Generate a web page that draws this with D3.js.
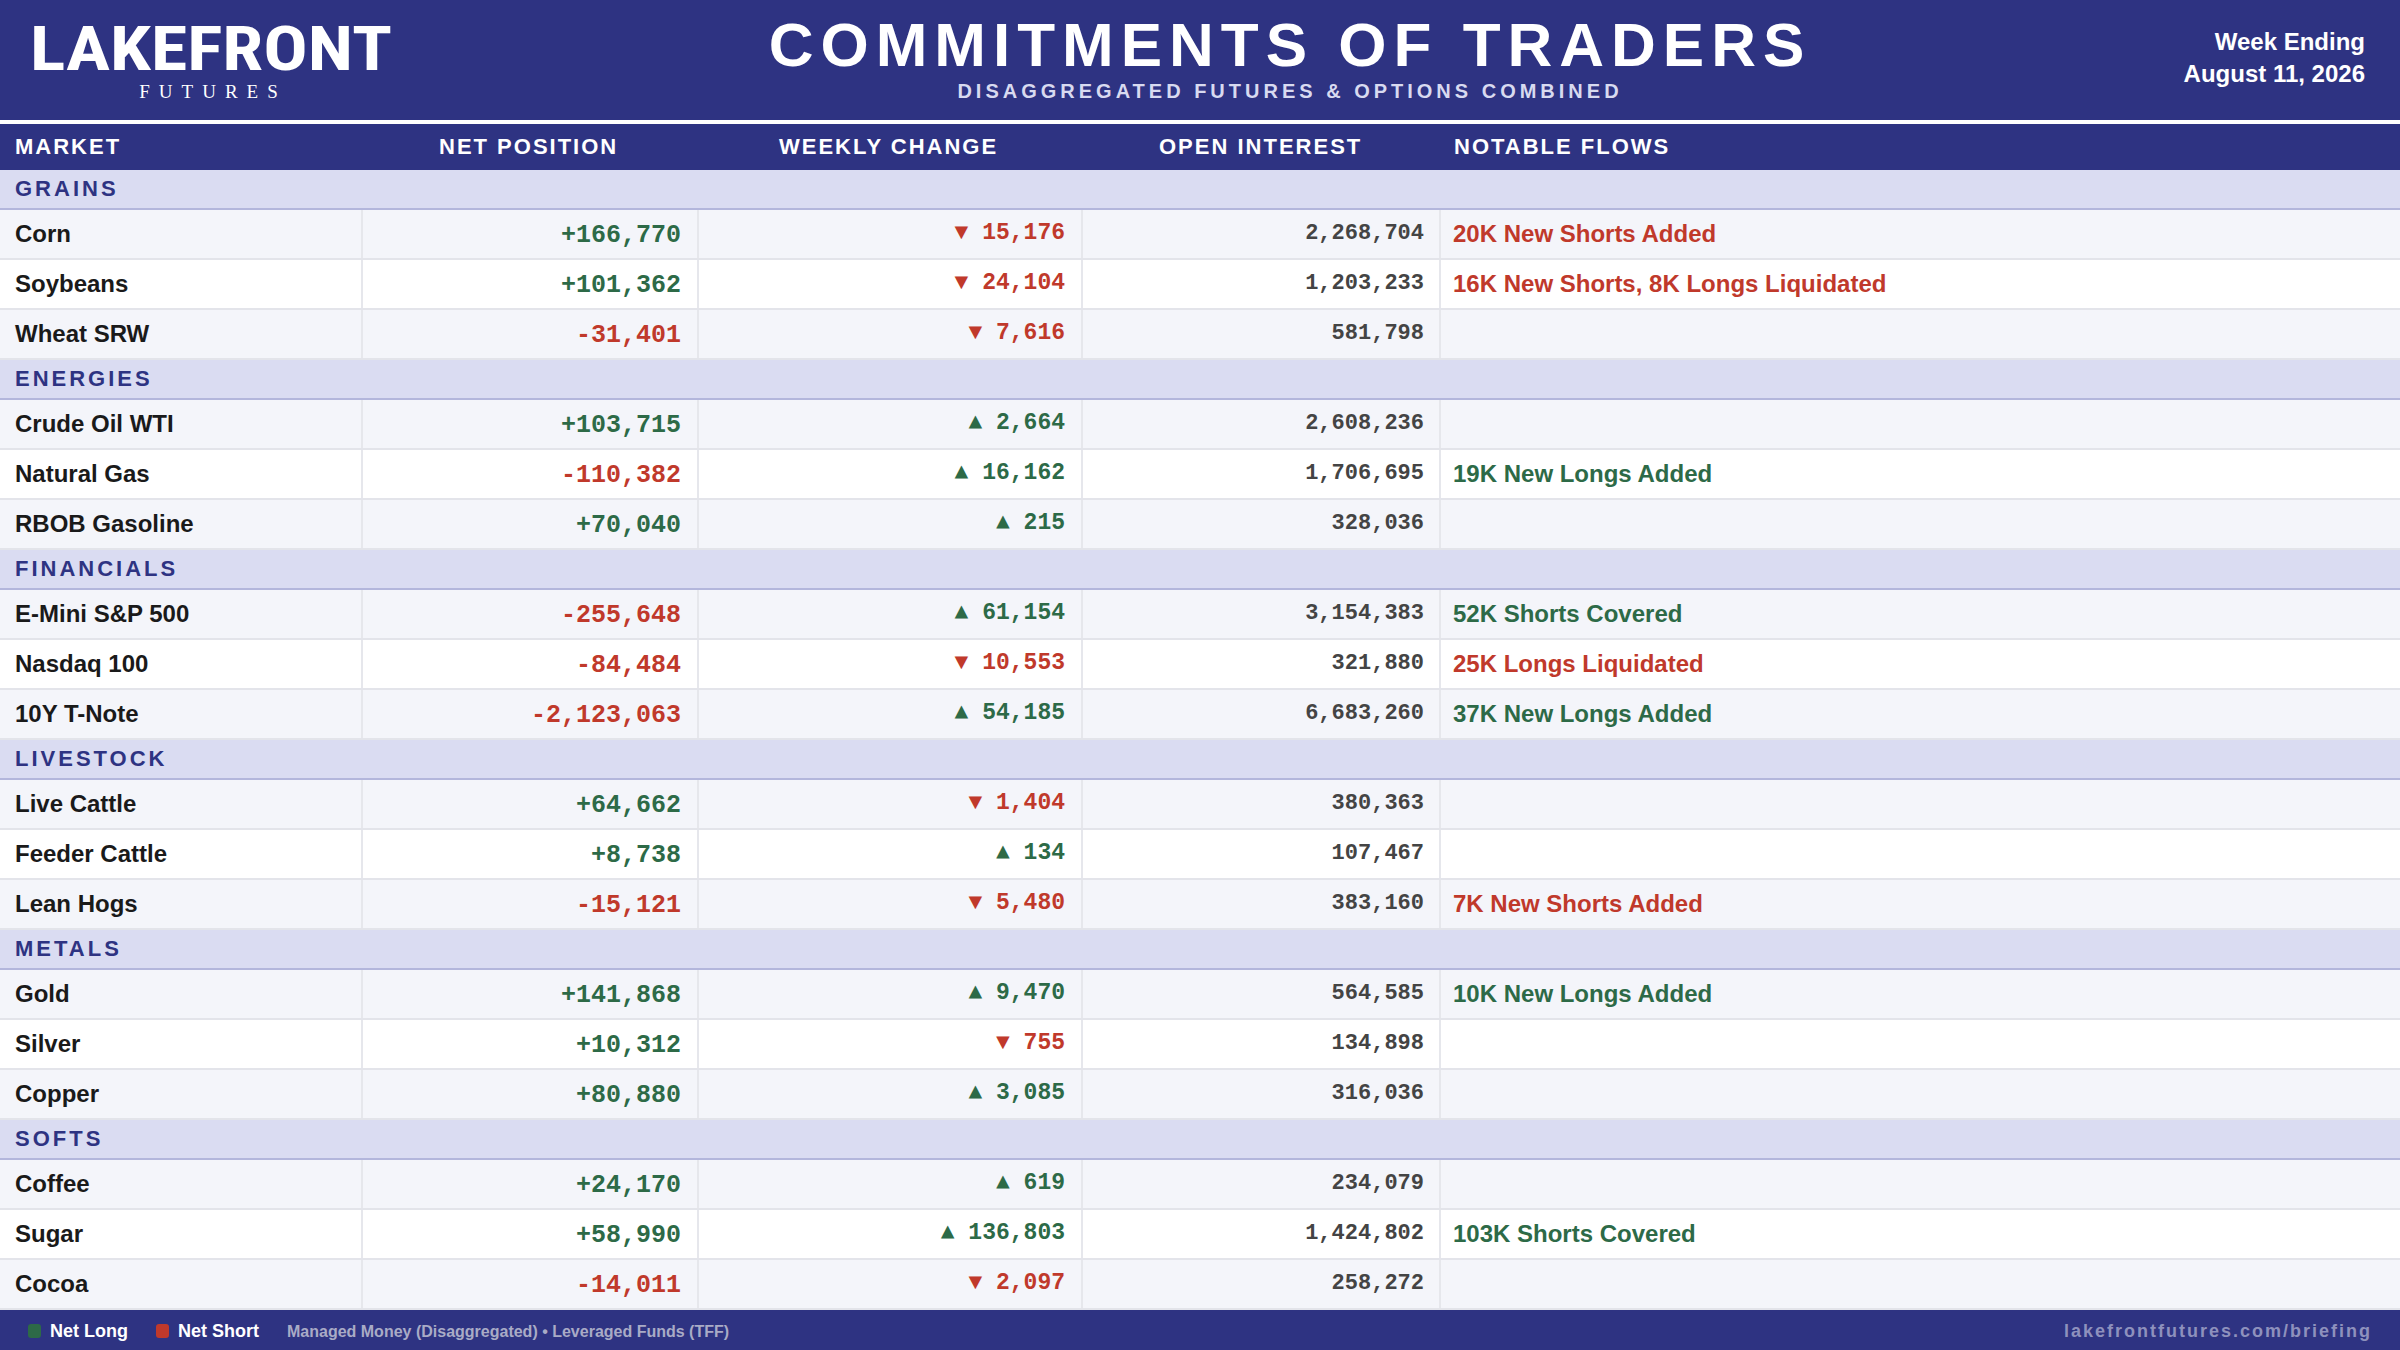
<!DOCTYPE html>
<html><head><meta charset="utf-8">
<script src="https://cdn.jsdelivr.net/npm/d3@7"></script>
<style>body{margin:0;background:#fff}svg{display:block}</style>
</head><body>
<script>
// data
const groups = ["GRAINS", "ENERGIES", "FINANCIALS", "LIVESTOCK", "METALS", "SOFTS"];
const markets = [
  ["Corn", "Soybeans", "Wheat SRW"],
  ["Crude Oil WTI", "Natural Gas", "RBOB Gasoline"],
  ["E-Mini S&P 500", "Nasdaq 100", "10Y T-Note"],
  ["Live Cattle", "Feeder Cattle", "Lean Hogs"],
  ["Gold", "Silver", "Copper"],
  ["Coffee", "Sugar", "Cocoa"]
];
const netPosition = [166770, 101362, -31401, 103715, -110382, 70040, -255648, -84484, -2123063,
  64662, 8738, -15121, 141868, 10312, 80880, 24170, 58990, -14011];
const weeklyChange = [-15176, -24104, -7616, 2664, 16162, 215, 61154, -10553, 54185,
  -1404, 134, -5480, 9470, -755, 3085, 619, 136803, -2097];
const openInterest = [2268704, 1203233, 581798, 2608236, 1706695, 328036, 3154383, 321880, 6683260,
  380363, 107467, 383160, 564585, 134898, 316036, 234079, 1424802, 258272];
const flows = ["20K New Shorts Added", "16K New Shorts, 8K Longs Liquidated", "", "", "19K New Longs Added", "",
  "52K Shorts Covered", "25K Longs Liquidated", "37K New Longs Added", "", "", "7K New Shorts Added",
  "10K New Longs Added", "", "", "", "103K Shorts Covered", ""];
const flowSign = [-1, -1, 0, 0, 1, 0, 1, -1, 1, 0, 0, -1, 1, 0, 0, 0, 1, 0];
const columns = ["MARKET", "NET POSITION", "WEEKLY CHANGE", "OPEN INTEREST", "NOTABLE FLOWS"];

const W = 2400, H = 1350;
const NAVY = "#2e3382", GREEN = "#2d6a47", RED = "#c0392b";
const narrow = "'Liberation Sans Narrow','Roboto Condensed','Liberation Sans',sans-serif";
const mono = "'Liberation Mono','DejaVu Sans Mono',monospace";
const fmt = d3.format(",");

const svg = d3.select("body").append("svg").attr("width", W).attr("height", H);

// header
svg.append("rect").attr("width", W).attr("height", 120).attr("fill", NAVY);
svg.append("text").attr("x", 30).attr("y", 70).attr("fill", "#fff")
  .attr("font-family", narrow).attr("font-weight", "bold").attr("font-size", 62)
  .attr("textLength", 362).attr("lengthAdjust", "spacingAndGlyphs").text("LAKEFRONT");
svg.append("text").attr("x", 213).attr("y", 98).attr("fill", "#fff").attr("text-anchor", "middle")
  .attr("font-family", "'Liberation Serif',serif").attr("font-size", 19).attr("letter-spacing", 9).text("FUTURES");
svg.append("text").attr("x", 1290).attr("y", 66).attr("fill", "#fff").attr("text-anchor", "middle")
  .attr("font-family", "'Liberation Sans',sans-serif").attr("font-weight", "bold").attr("font-size", 62)
  .attr("letter-spacing", 7).text("COMMITMENTS OF TRADERS");
svg.append("text").attr("x", 1290).attr("y", 98).attr("fill", "#d8daf0").attr("text-anchor", "middle")
  .attr("font-family", "'Liberation Sans',sans-serif").attr("font-weight", "bold").attr("font-size", 20)
  .attr("letter-spacing", 4).text("DISAGGREGATED FUTURES & OPTIONS COMBINED");
svg.append("text").attr("x", 2365).attr("y", 50).attr("fill", "#fff").attr("text-anchor", "end")
  .attr("font-family", "'Liberation Sans',sans-serif").attr("font-weight", "bold").attr("font-size", 24).text("Week Ending");
svg.append("text").attr("x", 2365).attr("y", 82).attr("fill", "#fff").attr("text-anchor", "end")
  .attr("font-family", "'Liberation Sans',sans-serif").attr("font-weight", "bold").attr("font-size", 24).text("August 11, 2026");

// column header
svg.append("rect").attr("y", 124).attr("width", W).attr("height", 46).attr("fill", NAVY);
const colX = [15, 439, 779, 1159, 1454];
svg.selectAll(".colh").data(columns).join("text")
  .attr("x", (d, i) => colX[i]).attr("y", 154).attr("fill", "#fff")
  .attr("font-family", "'Liberation Sans',sans-serif").attr("font-weight", "bold").attr("font-size", 22)
  .attr("letter-spacing", 2).text(d => d);

// build rows
const rows = [];
let y = 170, k = 0;
groups.forEach((g, gi) => {
  rows.push({type: "group", label: g, y, h: 40});
  y += 40;
  markets[gi].forEach((m, mi) => {
    rows.push({type: "data", label: m, idx: k, alt: mi % 2 === 0, y, h: 50});
    k++; y += 50;
  });
});

const gr = svg.selectAll(".row").data(rows).join("g").attr("transform", d => `translate(0,${d.y})`);
gr.append("rect").attr("width", W).attr("height", d => d.h)
  .attr("fill", d => d.type === "group" ? "#dadcf2" : (d.alt ? "#f4f5fa" : "#ffffff"));
gr.filter(d => d.type === "group").append("rect").attr("y", 38).attr("width", W).attr("height", 2).attr("fill", "#b3b6dc");
gr.filter(d => d.type === "group").append("text").attr("x", 15).attr("y", 26).attr("fill", NAVY)
  .attr("font-family", "'Liberation Sans',sans-serif").attr("font-weight", "bold").attr("font-size", 22)
  .attr("letter-spacing", 3).text(d => d.label);

const dr = gr.filter(d => d.type === "data");
dr.append("rect").attr("y", 48).attr("width", W).attr("height", 2).attr("fill", "#e3e4ea");
[361, 697, 1081, 1439].forEach(x => dr.append("rect").attr("x", x).attr("width", 2).attr("height", 48).attr("fill", "#e6e7ec"));
dr.append("text").attr("x", 15).attr("y", 32).attr("fill", "#1a1a1a")
  .attr("font-family", "'Liberation Sans',sans-serif").attr("font-weight", "bold").attr("font-size", 24).text(d => d.label);
dr.append("text").attr("x", 681).attr("y", 32).attr("text-anchor", "end")
  .attr("font-family", mono).attr("font-weight", "bold").attr("font-size", 25)
  .attr("fill", d => netPosition[d.idx] >= 0 ? GREEN : RED)
  .text(d => (netPosition[d.idx] >= 0 ? "+" : "-") + fmt(Math.abs(netPosition[d.idx])));
dr.append("text").attr("x", 1065).attr("y", 29).attr("text-anchor", "end")
  .attr("font-family", mono).attr("font-weight", "bold").attr("font-size", 23)
  .attr("fill", d => weeklyChange[d.idx] >= 0 ? GREEN : RED)
  .text(d => (weeklyChange[d.idx] >= 0 ? "▲ " : "▼ ") + fmt(Math.abs(weeklyChange[d.idx])));
dr.append("text").attr("x", 1424).attr("y", 29).attr("text-anchor", "end")
  .attr("font-family", mono).attr("font-weight", "bold").attr("font-size", 22).attr("fill", "#444")
  .text(d => fmt(openInterest[d.idx]));
dr.append("text").attr("x", 1453).attr("y", 32)
  .attr("font-family", "'Liberation Sans',sans-serif").attr("font-weight", "bold").attr("font-size", 24)
  .attr("fill", d => flowSign[d.idx] > 0 ? GREEN : RED).text(d => flows[d.idx]);

// footer
svg.append("rect").attr("y", 1310).attr("width", W).attr("height", 40).attr("fill", NAVY);
const leg = [["Net Long", GREEN, 28], ["Net Short", RED, 156]];
leg.forEach(([t, c, x]) => {
  svg.append("rect").attr("x", x).attr("y", 1324).attr("width", 13).attr("height", 14).attr("rx", 3).attr("fill", c);
  svg.append("text").attr("x", x + 22).attr("y", 1337).attr("fill", "#fff")
    .attr("font-family", "'Liberation Sans',sans-serif").attr("font-weight", "bold").attr("font-size", 18).text(t);
});
svg.append("text").attr("x", 287).attr("y", 1337).attr("fill", "#a9abc6")
  .attr("font-family", "'Liberation Sans',sans-serif").attr("font-weight", "bold").attr("font-size", 16)
  .text("Managed Money (Disaggregated) • Leveraged Funds (TFF)");
svg.append("text").attr("x", 2372).attr("y", 1337).attr("fill", "#8e91bd").attr("text-anchor", "end")
  .attr("font-family", "'Liberation Sans',sans-serif").attr("font-weight", "bold").attr("font-size", 18)
  .attr("letter-spacing", 2).text("lakefrontfutures.com/briefing");
</script>
</body></html>
